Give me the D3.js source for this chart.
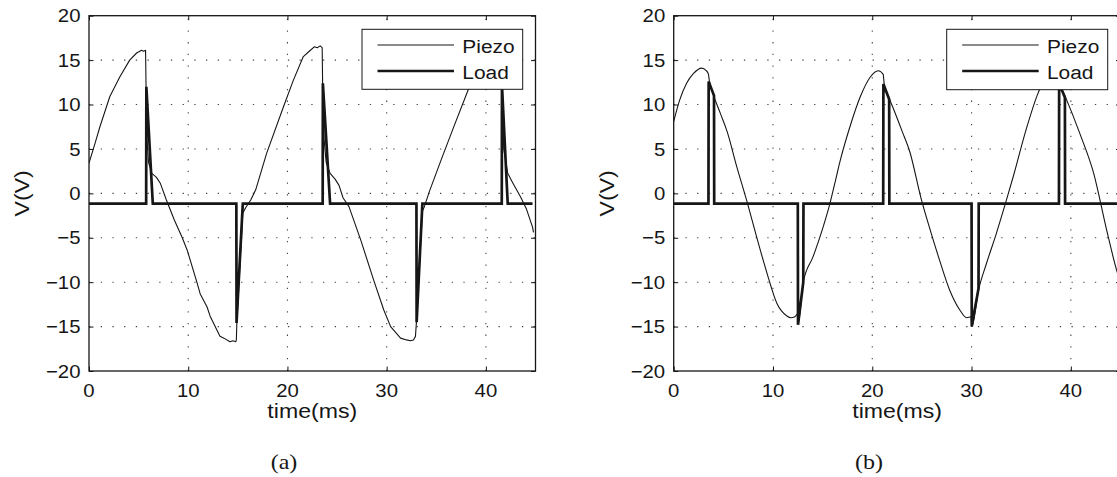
<!DOCTYPE html>
<html><head><meta charset="utf-8">
<script src="https://cdn.jsdelivr.net/npm/d3@7"></script>
<style>body{margin:0;background:#fff}svg{display:block}</style>
</head><body>
<svg id="chart" width="1117" height="477"></svg>
<script>
// ---------------- DATA ----------------
const xTicks = [0, 10, 20, 30, 40];
const yTicks = [-20, -15, -10, -5, 0, 5, 10, 15, 20];
const seriesNames = ["Piezo", "Load"];
const panelCaptions = ["(a)", "(b)"];
const xLabel = "time(ms)";
const yLabel = "V(V)";

// Panel (a) – Piezo
const tA_piezo = [0,0.6,1.1,2.1,3.1,4.1,4.8,5.3,5.5,5.7,5.75,5.85,6.0,6.33,6.8,7.2,7.8,8.6,9.4,9.9,10.9,11.2,11.9,12.2,12.9,13.2,13.6,14.2,14.5,14.8,14.85,14.9,15.5,15.6,15.8,16.3,16.8,17.9,19.6,20.6,21.6,22.2,22.7,23.0,23.3,23.5,23.55,23.7,23.9,24.3,24.8,25.2,25.6,26.2,27.4,28.7,29.7,30.4,31.4,32.0,32.4,32.7,32.9,33.0,33.6,33.8,34.3,35.5,36.8,38.2,39.2,40.0,40.6,41.2,41.5,41.6,41.8,42.2,42.7,43.5,44.1,44.7,44.8];
const vA_piezo = [3.4,5.6,7.5,10.9,13.1,15.0,15.8,16.1,16.0,16.1,12,6,3.5,2.25,1.8,1.1,-0.75,-3,-5,-6.4,-10.1,-11.3,-12.8,-13.8,-15.4,-16.1,-16.3,-16.7,-16.6,-16.7,-16.5,-14.6,-2.2,-2.0,-1.6,-0.75,0.4,4.5,9.75,12.75,15.4,16.0,16.5,16.4,16.6,16.4,12,6,3.5,2.25,1.6,0.9,-0.5,-1.5,-5.3,-9.8,-13.1,-15.0,-16.3,-16.5,-16.6,-16.5,-16.1,-14.5,-2.0,-1.5,0.2,3.8,7.6,11.6,14.0,15.4,16.2,16.5,16.4,12,5,2.25,1.2,-0.4,-1.8,-3.8,-4.4];
// Panel (a) – Load
const tA_load = [0,5.76,5.78,6.43,14.85,14.87,15.5,23.55,23.57,24.3,33.0,33.02,33.6,41.6,41.62,42.2,44.7];
const vA_load = [-1.15,-1.15,12.0,-1.15,-1.15,-14.6,-1.15,-1.15,12.4,-1.15,-1.15,-14.5,-1.15,-1.15,12.2,-1.15,-1.15];

// Panel (b) – Piezo
const tB_piezo = [0,0.6,1.3,2.0,2.8,3.3,3.5,3.6,3.85,4.7,5.4,6.3,7.35,8.4,9.4,10.4,11.4,11.8,12.2,12.45,12.52,13.05,14.05,15.1,15.7,16.2,16.75,17.75,18.8,19.8,20.6,21.1,21.2,21.7,22.1,23.0,23.8,24.9,25.8,26.8,27.8,28.8,29.5,29.95,30.02,30.7,31.5,32.5,33.5,34.2,35.5,36.6,37.5,38.3,38.8,38.9,39.4,40.9,42.3,43.6,44.6,45];
const vB_piezo = [8.1,10.5,12.4,13.5,14.1,13.8,13.4,12.6,11.6,9.0,6.9,3.2,-0.8,-5.1,-9.0,-12.4,-13.8,-14.0,-13.9,-13.6,-14.7,-10.0,-7.1,-3.6,-1.3,1.0,3.6,7.5,10.9,13.1,13.8,13.4,12.3,10.7,9.6,7.0,4.6,-0.5,-4.0,-7.6,-10.9,-13.1,-14.0,-13.9,-15.0,-10.9,-7.9,-4.5,-0.8,1.9,7.2,11.0,13.2,14.0,13.6,12.3,11.0,6.75,2.25,-4.1,-8.6,-10.0];
// Panel (b) – Load
const tB_load = [0,3.5,3.52,4.06,4.08,12.5,12.52,13.05,13.07,21.1,21.12,21.7,21.72,30.0,30.02,30.7,30.72,38.8,38.82,39.4,39.42,45];
const vB_load = [-1.15,-1.15,12.6,11.0,-1.15,-1.15,-14.8,-10.0,-1.15,-1.15,12.3,10.6,-1.15,-1.15,-15.0,-10.7,-1.15,-1.15,12.4,10.8,-1.15,-1.15];

// ---------------- LAYOUT ----------------
const SX = 1.1; // horizontal text stretch of the source figure
const INK = "#161616";
const svg = d3.select("#chart");

const panels = [
  {id:"a", x0:89, x1:535.5, piezo:[tA_piezo,vA_piezo], load:[tA_load,vA_load], curve:d3.curveLinear,
   legend:{x:362, y:29.3, w:160.7, h:60}, ylabX:29, capX:284},
  {id:"b", x0:673.7, x1:1120.5, piezo:[tB_piezo,vB_piezo], load:[tB_load,vB_load], curve:d3.curveMonotoneX,
   legend:{x:946.7, y:29.3, w:161, h:60.4}, ylabX:614, capX:869}
];
const yTop = 15.7, yBot = 371;

function addText(g, x, y, str, size, anchor, opts={}) {
  return g.append("text")
    .attr("transform", `translate(${x},${y}) ${opts.rotate ? "rotate(-90)" : ""} scale(${opts.sx ?? SX},1)`)
    .attr("font-family", opts.family || "'Liberation Sans', Arial, Helvetica, sans-serif")
    .attr("font-size", size)
    .attr("text-anchor", anchor)
    .attr("fill", INK)
    .text(str);
}

panels.forEach((p, i) => {
  const x = d3.scaleLinear().domain([0, 45]).range([p.x0, p.x1]);
  const y = d3.scaleLinear().domain([-20, 20]).range([yBot, yTop]);
  const g = svg.append("g");

  const clipId = "clip" + p.id;
  svg.append("clipPath").attr("id", clipId).append("rect")
    .attr("x", p.x0).attr("y", yTop).attr("width", p.x1 - p.x0).attr("height", yBot - yTop);

  // grid (dotted)
  const grid = g.append("g").attr("stroke", "#444").attr("stroke-width", 1.1).attr("stroke-dasharray", "1.3,10.4");
  xTicks.filter(d => d > 0).forEach(d => {
    grid.append("line").attr("x1", x(d)).attr("x2", x(d)).attr("y1", yBot).attr("y2", yTop);
  });
  yTicks.filter(d => d > -20 && d < 20).forEach(d => {
    grid.append("line").attr("x1", p.x0).attr("x2", p.x1).attr("y1", y(d)).attr("y2", y(d));
  });

  // series
  const plot = g.append("g").attr("clip-path", `url(#${clipId})`);
  const mk = (ts, vs) => ts.map((t, k) => [t, vs[k]]);
  const linePiezo = d3.line().x(d => x(d[0])).y(d => y(d[1])).curve(p.curve);
  const lineLoad = d3.line().x(d => x(d[0])).y(d => y(d[1]));
  plot.append("path").datum(mk(p.piezo[0], p.piezo[1]))
    .attr("d", linePiezo).attr("fill", "none").attr("stroke", INK).attr("stroke-width", 1.1).attr("stroke-linejoin", "round");
  plot.append("path").datum(mk(p.load[0], p.load[1]))
    .attr("d", lineLoad).attr("fill", "none").attr("stroke", INK).attr("stroke-width", 2.7).attr("stroke-linejoin", "miter");

  // axes using d3 axis generators (inward ticks, all 4 sides)
  const tl = 4.5;
  const axB = g.append("g").attr("transform", `translate(0,${yBot})`)
    .call(d3.axisBottom(x).tickValues(xTicks).tickSizeInner(-tl).tickSizeOuter(0).tickFormat(""));
  const axT = g.append("g").attr("transform", `translate(0,${yTop})`)
    .call(d3.axisTop(x).tickValues(xTicks).tickSizeInner(-tl).tickSizeOuter(0).tickFormat(""));
  const axL = g.append("g").attr("transform", `translate(${p.x0},0)`)
    .call(d3.axisLeft(y).tickValues(yTicks).tickSizeInner(-tl).tickSizeOuter(0).tickFormat(""));
  const axR = g.append("g").attr("transform", `translate(${p.x1},0)`)
    .call(d3.axisRight(y).tickValues(yTicks).tickSizeInner(-tl).tickSizeOuter(0).tickFormat(""));
  [axB, axT, axL, axR].forEach(a => { a.selectAll("path").remove(); a.selectAll("line").attr("stroke", INK).attr("stroke-width", 1); });

  g.append("rect").attr("x", p.x0).attr("y", yTop).attr("width", p.x1 - p.x0).attr("height", yBot - yTop)
    .attr("fill", "none").attr("stroke", INK).attr("stroke-width", 1.3);

  // tick labels
  xTicks.forEach(d => addText(g, x(d), 397, String(d).replace("-", "\u2212"), 18.5, "middle"));
  yTicks.forEach(d => addText(g, p.x0 - 8.5, y(d) + 6.6, String(d).replace("-", "\u2212"), 18.5, "end"));

  // axis labels
  addText(g, (p.x0 + p.x1) / 2, 418, xLabel, 21, "middle");
  addText(g, p.ylabX, y(0), yLabel, 21, "middle", {rotate: true});

  // legend
  const L = p.legend;
  const lg = g.append("g");
  lg.append("rect").attr("x", L.x).attr("y", L.y).attr("width", L.w).attr("height", L.h)
    .attr("fill", "#fff").attr("stroke", INK).attr("stroke-width", 1);
  const rows = [{name: seriesNames[0], w: 1.1, dy: 15.7}, {name: seriesNames[1], w: 2.7, dy: 41.7}];
  rows.forEach(r => {
    lg.append("line").attr("x1", L.x + 15.5).attr("x2", L.x + 92).attr("y1", L.y + r.dy).attr("y2", L.y + r.dy)
      .attr("stroke", INK).attr("stroke-width", r.w);
    addText(lg, L.x + 100.3, L.y + r.dy + 8.3, r.name, 19, "start");
  });

  // caption
  addText(g, p.capX, 469, panelCaptions[i], 20, "middle", {family: "'Liberation Serif', 'Times New Roman', serif", sx: 1.2});
});
</script>
</body></html>
